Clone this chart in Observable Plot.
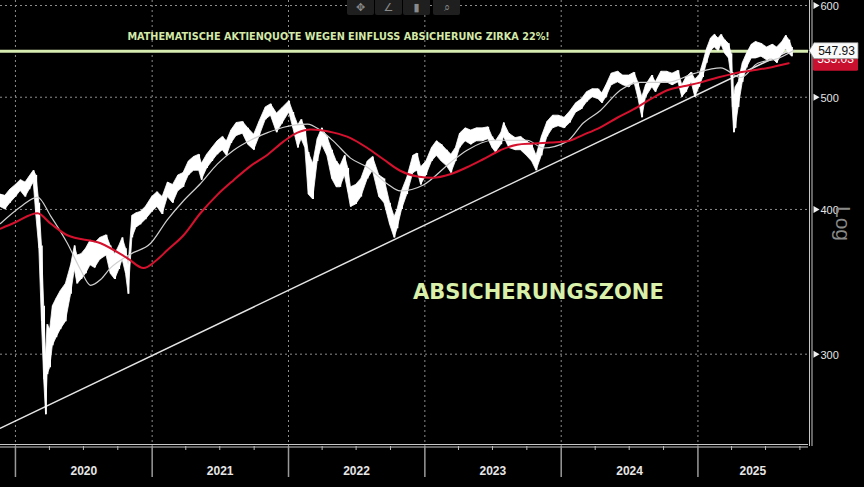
<!DOCTYPE html>
<html>
<head>
<meta charset="utf-8">
<script src="https://cdn.jsdelivr.net/npm/d3@7"></script>
<script src="https://cdn.jsdelivr.net/npm/@observablehq/plot@0.6"></script>
<style>
html, body { margin: 0; padding: 0; background: #000; }
#chart { position: relative; width: 864px; height: 487px; overflow: hidden; background: #000; }
.toolbar { position: absolute; top: 0; left: 347px; height: 15px; }
.toolbar span { position: absolute; top: 0; height: 15px; width: 27px; background: #1f1f1f; color: #8a8a8a;
  font: 11px "DejaVu Sans", sans-serif; line-height: 15px; text-align: center; border-radius: 0 0 2px 2px; }
</style>
</head>
<body>
<div id="chart"></div>
<script>
// ---------- DATA ----------
const priceDates = ["2019-11-22","2019-12-05","2019-12-18","2020-01-02","2020-01-15","2020-01-28","2020-02-08","2020-02-19","2020-02-26","2020-03-05","2020-03-12","2020-03-18","2020-03-23","2020-03-27","2020-04-03","2020-04-10","2020-04-20","2020-05-01","2020-05-15","2020-05-29","2020-06-08","2020-06-15","2020-06-26","2020-07-08","2020-07-20","2020-08-01","2020-08-15","2020-09-01","2020-09-12","2020-09-24","2020-10-05","2020-10-14","2020-10-23","2020-10-30","2020-11-09","2020-11-20","2020-12-01","2020-12-15","2021-01-01","2021-01-15","2021-01-29","2021-02-12","2021-02-26","2021-03-12","2021-03-26","2021-04-09","2021-04-23","2021-05-07","2021-05-14","2021-05-28","2021-06-11","2021-06-25","2021-07-09","2021-07-20","2021-08-01","2021-08-15","2021-09-01","2021-09-15","2021-10-01","2021-10-15","2021-11-01","2021-11-15","2021-12-01","2021-12-15","2022-01-03","2022-01-14","2022-01-27","2022-02-05","2022-02-15","2022-02-24","2022-03-08","2022-03-20","2022-04-01","2022-04-15","2022-04-28","2022-05-10","2022-05-20","2022-06-01","2022-06-10","2022-06-17","2022-07-01","2022-07-15","2022-08-01","2022-08-15","2022-09-01","2022-09-15","2022-09-30","2022-10-12","2022-10-20","2022-11-01","2022-11-15","2022-12-01","2022-12-12","2022-12-22","2023-01-05","2023-01-20","2023-02-02","2023-02-15","2023-03-01","2023-03-13","2023-03-25","2023-04-05","2023-04-20","2023-05-05","2023-05-20","2023-06-05","2023-06-20","2023-07-01","2023-07-10","2023-07-25","2023-08-01","2023-08-15","2023-09-01","2023-09-15","2023-10-01","2023-10-15","2023-10-27","2023-11-10","2023-11-25","2023-12-10","2023-12-25","2024-01-10","2024-01-25","2024-02-10","2024-02-25","2024-03-10","2024-03-25","2024-04-10","2024-04-20","2024-05-01","2024-05-15","2024-06-01","2024-06-15","2024-07-01","2024-07-15","2024-07-25","2024-08-05","2024-08-15","2024-09-01","2024-09-10","2024-09-25","2024-10-10","2024-10-25","2024-11-10","2024-11-20","2024-12-01","2024-12-15","2024-12-25","2025-01-05","2025-01-15","2025-01-25","2025-02-05","2025-02-15","2025-02-25","2025-03-05","2025-03-15","2025-03-25","2025-04-01","2025-04-04","2025-04-08","2025-04-12","2025-04-20","2025-05-01","2025-05-12","2025-05-25","2025-06-05","2025-06-20","2025-07-05","2025-07-20","2025-08-01","2025-08-15","2025-08-25","2025-09-03","2025-09-10"];
const priceLow  = [402,400,405,410,415,410,416,422,395,370,320,285,266,288,292,305,310,315,320,338,355,345,348,352,358,356,362,365,352,348,355,362,352,338,378,386,388,392,398,402,396,410,405,415,418,428,432,432,424,434,440,446,450,445,456,463,465,455,450,462,478,482,466,474,485,470,452,460,452,412,408,440,455,445,425,418,418,428,414,402,404,410,425,432,410,405,388,378,385,400,412,430,432,420,428,440,445,440,436,430,440,452,458,455,458,458,460,452,448,455,462,452,450,450,445,440,432,445,462,470,472,470,475,485,488,495,500,498,494,500,512,515,512,510,515,500,480,500,510,505,515,515,512,515,500,505,515,500,510,520,535,548,552,548,555,545,540,520,490,466,470,490,515,530,540,540,542,538,540,535,545,550,545,542];
const priceHigh = [412,411,416,420,424,422,427,432,428,405,372,330,298,318,315,330,335,340,345,358,372,365,366,370,376,374,378,380,372,366,372,378,370,358,395,397,398,402,410,414,410,422,420,428,430,440,444,446,438,446,452,458,462,458,468,475,476,470,464,476,490,493,484,489,496,485,473,478,470,448,438,460,470,462,450,440,436,445,434,418,420,425,440,444,428,425,405,394,400,415,426,445,447,435,440,452,458,455,450,446,452,465,470,468,470,470,471,462,458,466,475,465,461,462,458,455,445,462,476,482,482,480,486,494,498,505,508,508,504,512,524,526,522,522,525,515,500,512,522,515,526,526,524,527,512,520,525,518,522,535,550,562,566,562,566,560,556,545,525,500,510,515,535,545,555,558,556,552,555,552,558,565,560,552];

const ma200Dates  = ["2019-11-22","2020-01-01","2020-02-29","2020-04-04","2020-05-19","2020-08-16","2020-10-27","2020-12-09","2021-01-10","2021-02-11","2021-03-26","2021-05-10","2021-06-25","2021-08-07","2021-09-21","2021-11-06","2021-12-19","2022-01-25","2022-03-01","2022-05-02","2022-06-16","2022-07-31","2022-09-12","2022-10-27","2022-12-12","2023-01-23","2023-03-10","2023-04-24","2023-06-06","2023-07-22","2023-09-05","2023-10-18","2023-12-03","2024-01-17","2024-02-29","2024-04-15","2024-05-30","2024-07-12","2024-08-27","2024-10-11","2024-11-23","2025-01-09","2025-02-23","2025-04-07","2025-05-22","2025-07-07","2025-09-01"];
const ma200Values = [385,390,397,389,380,374,363,356,361,369,380,397,412,424,436,446,458,466,469,466,461,452,442,432,427,426,429,435,442,450,455,456,457,458,464,471,480,488,498,507,511,515,520,524,527,530,535];

const ma50Dates  = ["2019-11-22","2020-01-14","2020-02-29","2020-04-04","2020-05-19","2020-06-23","2020-07-20","2020-08-16","2020-09-11","2020-11-04","2020-12-28","2021-02-11","2021-03-26","2021-05-10","2021-06-25","2021-08-07","2021-09-21","2021-11-06","2021-12-19","2022-02-21","2022-03-28","2022-05-02","2022-06-16","2022-07-31","2022-09-22","2022-10-27","2022-12-28","2023-03-10","2023-04-24","2023-07-03","2023-10-02","2023-11-14","2024-01-17","2024-02-29","2024-04-15","2024-06-07","2024-07-31","2024-10-11","2024-12-21","2025-03-03","2025-04-26","2025-06-10","2025-08-03","2025-09-15"];
const ma50Values = [389,402,410,395,374,355,344,348,356,366,374,392,407,421,438,450,459,466,471,474,468,458,443,435,421,415,420,439,450,459,459,452,458,475,487,507,515,515,524,530,520,535,540,549];

const trendDates  = ["2019-11-22","2025-09-10"];
const trendValues = [259, 550];

const hedgeLevel = 547.93;
const priceLabels = ["547.93", "535.03"];

const yTicks = [300, 400, 500, 600];
const yearStarts = ["2020-01-01","2021-01-01","2022-01-01","2023-01-01","2024-01-01","2025-01-01"];
const yearLabelDates = ["2020-07-02","2021-07-02","2022-07-02","2023-07-02","2024-07-02","2025-05-28"];

const annotationTop = "MATHEMATISCHE AKTIENQUOTE WEGEN EINFLUSS ABSICHERUNG ZIRKA 22%!";
const annotationTopAt = ["2022-05-15", 564];
const annotationZone = "ABSICHERUNGSZONE";
const annotationZoneAt = ["2023-11-01", 339];

const xDomain = ["2019-11-22", "2025-10-24"];
const yDomain = [249.7, 606];

// ---------- BUILD ----------
const parse = d3.utcParse("%Y-%m-%d");
const price = priceDates.map((d, i) => ({date: parse(d), low: priceLow[i], high: priceHigh[i]}));
const ma200 = ma200Dates.map((d, i) => ({date: parse(d), value: ma200Values[i]}));
const ma50 = ma50Dates.map((d, i) => ({date: parse(d), value: ma50Values[i]}));
const trend = trendDates.map((d, i) => ({date: parse(d), value: trendValues[i]}));
const years = yearStarts.map(parse);
const labelDates = yearLabelDates.map(parse);
const xEnd = parse(xDomain[1]);
const quarterTicks = d3.utcMonth.every(3).range(parse("2020-01-01"), xEnd).filter(d => d.getUTCMonth() !== 0);

const W = 864, H = 487, MR = 56, MB = 41;

const plot = Plot.plot({
  width: W, height: H,
  marginLeft: 0, marginRight: MR, marginTop: 0, marginBottom: MB,
  style: {background: "#000", color: "#ddd", fontFamily: "'Liberation Sans', Arial, sans-serif", fontSize: "12px"},
  x: {type: "utc", domain: xDomain.map(parse)},
  y: {type: "log", domain: yDomain},
  marks: [
    // grid
    Plot.ruleY(yTicks, {stroke: "#8c8c8c", strokeDasharray: "2,3", strokeWidth: 1}),
    Plot.ruleX(years, {stroke: "#8c8c8c", strokeDasharray: "2,3", strokeWidth: 1}),
    // hedge level
    Plot.ruleY([hedgeLevel], {stroke: "#d6ebb0", strokeWidth: 3}),
    // trend line
    Plot.line(trend, {x: "date", y: "value", stroke: "#e4e4e4", strokeWidth: 1.5}),
    // price bars
    Plot.areaY(price, {x: "date", y1: "low", y2: "high", fill: "#ffffff", stroke: "#ffffff", strokeWidth: 0.8, curve: "linear"}),
    Plot.ruleX(price, {x: "date", y1: "low", y2: "high", stroke: "#ffffff", strokeWidth: 1.6}),
    // moving averages
    Plot.line(ma50, {x: "date", y: "value", stroke: "#cfcfcf", strokeWidth: 1.2, curve: "monotone-x"}),
    Plot.line(ma200, {x: "date", y: "value", stroke: "#d6112e", strokeWidth: 2, curve: "monotone-x"}),
    // annotations
    Plot.text([annotationTop], {x: () => parse(annotationTopAt[0]), y: () => annotationTopAt[1], text: d => d,
      fill: "#d4e9a9", fontSize: 9.7, fontWeight: "bold", fontFamily: "'DejaVu Sans', Verdana, sans-serif"}),
    Plot.text([annotationZone], {x: () => parse(annotationZoneAt[0]), y: () => annotationZoneAt[1], text: d => d,
      fill: "#d8f0aa", fontSize: 21, fontWeight: "bold", fontFamily: "'DejaVu Sans', Verdana, sans-serif"}),
    // frame lines (right and bottom, doubled)
    Plot.ruleX([xEnd], {stroke: "#c8c8c8", strokeWidth: 1, dx: 1}),
    Plot.ruleX([xEnd], {stroke: "#c8c8c8", strokeWidth: 1, dx: 3.5}),
    Plot.ruleY([yDomain[0]], {stroke: "#c8c8c8", strokeWidth: 1, dy: -2}),
    Plot.ruleY([yDomain[0]], {stroke: "#c8c8c8", strokeWidth: 1, dy: 0.5}),
    // y axis (right)
    Plot.axisY(yTicks, {anchor: "right", tickSize: 0, tickPadding: 12, label: null, fill: "#e4e4e4", fontSize: 11, dy: 1}),
    Plot.dot(yTicks, {x: () => xEnd, y: d => d, symbol: "triangle", rotate: 90, r: 2.6, fill: "#f0f0f0", dx: 7}),
    Plot.text(["Log"], {x: () => xEnd, y: () => 389, text: d => d, rotate: 90, dx: 34, fill: "#8a8a8a", fontSize: 21,
      fontFamily: "'Liberation Sans', Arial, sans-serif"}),
    // x axis
    Plot.axisX(quarterTicks, {tickSize: 4, tickFormat: () => "", stroke: "#bdbdbd", label: null}),
    Plot.axisX(years, {tickSize: 31, tickFormat: () => "", stroke: "#9a9a9a", strokeWidth: 1.5, label: null}),
    Plot.axisX(labelDates, {tickSize: 0, tickPadding: 20, tickFormat: "%Y", label: null, fill: "#e6e6e6",
      fontSize: 12, fontWeight: "bold"})
  ]
});

document.getElementById("chart").appendChild(plot);

// price tags on the right axis (placed with the plot's own y scale)
const svg = d3.select(plot);
const yy = plot.scale("y").apply(hedgeLevel);
const x0 = W - MR;
const tag = svg.append("g").attr("font-family", "'Liberation Sans', Arial, sans-serif").attr("font-size", 12);
tag.append("rect").attr("x", x0 + 5).attr("y", yy + 2).attr("width", 45).attr("height", 18).attr("rx", 1.5).attr("fill", "#c9102e");
tag.append("text").attr("x", x0 + 27.5).attr("y", yy + 12.5).attr("text-anchor", "middle").attr("fill", "#fff").text(priceLabels[1]);
tag.append("path")
  .attr("d", `M${x0 + 1},${yy} L${x0 + 6},${yy - 8} H${x0 + 50} V${yy + 8} H${x0 + 6} Z`)
  .attr("fill", "#fafafa").attr("stroke", "#888").attr("stroke-width", 0.8);
tag.append("text").attr("x", x0 + 28.5).attr("y", yy + 4.5).attr("text-anchor", "middle").attr("fill", "#111").text(priceLabels[0]);

// chart toolbar (text glyphs)
const tb = document.createElement("div");
tb.className = "toolbar";
const icons = ["✥", "∠", "▮", "⌕"];
const lefts = [0, 28, 56, 86];
icons.forEach((c, i) => { const s = document.createElement("span"); s.textContent = c; s.style.left = lefts[i] + "px"; tb.appendChild(s); });
document.getElementById("chart").appendChild(tb);
</script>
</body>
</html>
